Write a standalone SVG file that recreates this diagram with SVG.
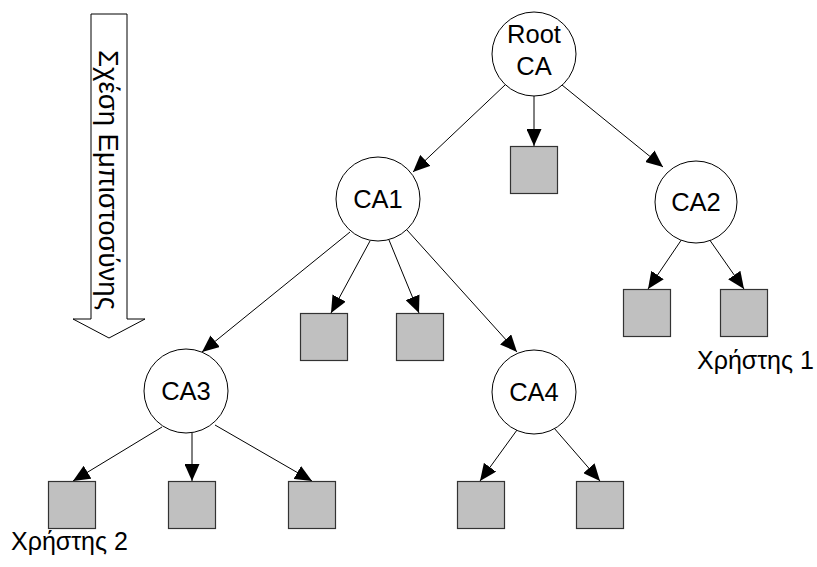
<svg xmlns="http://www.w3.org/2000/svg" width="817" height="567" viewBox="0 0 817 567">
<style>
.ca{fill:#fff;stroke:#000;stroke-width:1}
.box{fill:#c0c0c0;stroke:#333;stroke-width:1.2}
.lbl{font-family:"Liberation Sans",Arial,sans-serif;font-size:25.5px;fill:#000;text-anchor:middle}
.usr{font-family:"Liberation Sans",Arial,sans-serif;font-size:25px;fill:#000}
.edge{stroke:#000;stroke-width:1;fill:none;marker-end:url(#ah)}
</style>
<defs>
<marker id="ah" markerUnits="userSpaceOnUse" markerWidth="17" markerHeight="15" refX="17" refY="7.5" orient="auto">
<path d="M0,0 L17,7.5 L0,15 z" fill="#000"/>
</marker>
</defs>
<rect width="817" height="567" fill="#fff"/>
<g id="trust-arrow">
<polygon points="91,14 127,14 127,319 145,319 109,338 73,319 91,319" fill="#fff" stroke="#000" stroke-width="1"/>
<text transform="translate(99,50) rotate(90)" font-family="'Liberation Sans',Arial,sans-serif" font-size="27.5" fill="#000">Σχέση Εμπιστοσύνης</text>
</g>
<g id="connectors">
<line class="edge" x1="505" y1="85" x2="413" y2="172"/>
<line class="edge" x1="534" y1="96" x2="534" y2="146"/>
<line class="edge" x1="562" y1="85" x2="663" y2="167"/>
<line class="edge" x1="350" y1="232" x2="202" y2="352"/>
<line class="edge" x1="370" y1="241" x2="331" y2="313"/>
<line class="edge" x1="389" y1="240" x2="419" y2="313"/>
<line class="edge" x1="407" y1="230" x2="517" y2="352"/>
<line class="edge" x1="682" y1="239" x2="648" y2="289"/>
<line class="edge" x1="709" y1="239" x2="744" y2="289"/>
<line class="edge" x1="162" y1="427" x2="73" y2="481"/>
<line class="edge" x1="192" y1="433" x2="192" y2="481"/>
<line class="edge" x1="215" y1="425" x2="312" y2="481"/>
<line class="edge" x1="517" y1="430" x2="480" y2="481"/>
<line class="edge" x1="554" y1="428" x2="600" y2="481"/>
</g>
<g id="root-ca"><circle class="ca" cx="534" cy="54" r="42"/><text class="lbl" x="534" y="43">Root</text><text class="lbl" x="534" y="75">CA</text></g>
<g id="ca1"><circle class="ca" cx="378" cy="199" r="42"/><text class="lbl" x="378" y="208">CA1</text></g>
<g id="ca2"><circle class="ca" cx="696" cy="202" r="41"/><text class="lbl" x="696" y="211">CA2</text></g>
<g id="ca3"><circle class="ca" cx="186" cy="391" r="42"/><text class="lbl" x="186" y="400">CA3</text></g>
<g id="ca4"><circle class="ca" cx="534" cy="392" r="42"/><text class="lbl" x="534" y="401">CA4</text></g>
<g id="box-root"><rect class="box" x="510.5" y="146.5" width="47" height="47"/></g>
<g id="box-ca1-a"><rect class="box" x="300.5" y="313.5" width="47" height="47"/></g>
<g id="box-ca1-b"><rect class="box" x="396.5" y="313.5" width="47" height="47"/></g>
<g id="box-ca2-a"><rect class="box" x="623.5" y="289.5" width="47" height="47"/></g>
<g id="box-ca2-b"><rect class="box" x="720.5" y="289.5" width="47" height="47"/></g>
<g id="box-ca3-a"><rect class="box" x="48.5" y="481.5" width="47" height="47"/></g>
<g id="box-ca3-b"><rect class="box" x="168.5" y="481.5" width="47" height="47"/></g>
<g id="box-ca3-c"><rect class="box" x="288.5" y="481.5" width="47" height="47"/></g>
<g id="box-ca4-a"><rect class="box" x="457.5" y="481.5" width="47" height="47"/></g>
<g id="box-ca4-b"><rect class="box" x="576.5" y="481.5" width="47" height="47"/></g>
<g id="user1"><text class="usr" x="697" y="369">Χρήστης 1</text></g>
<g id="user2"><text class="usr" x="11" y="550">Χρήστης 2</text></g>
</svg>
